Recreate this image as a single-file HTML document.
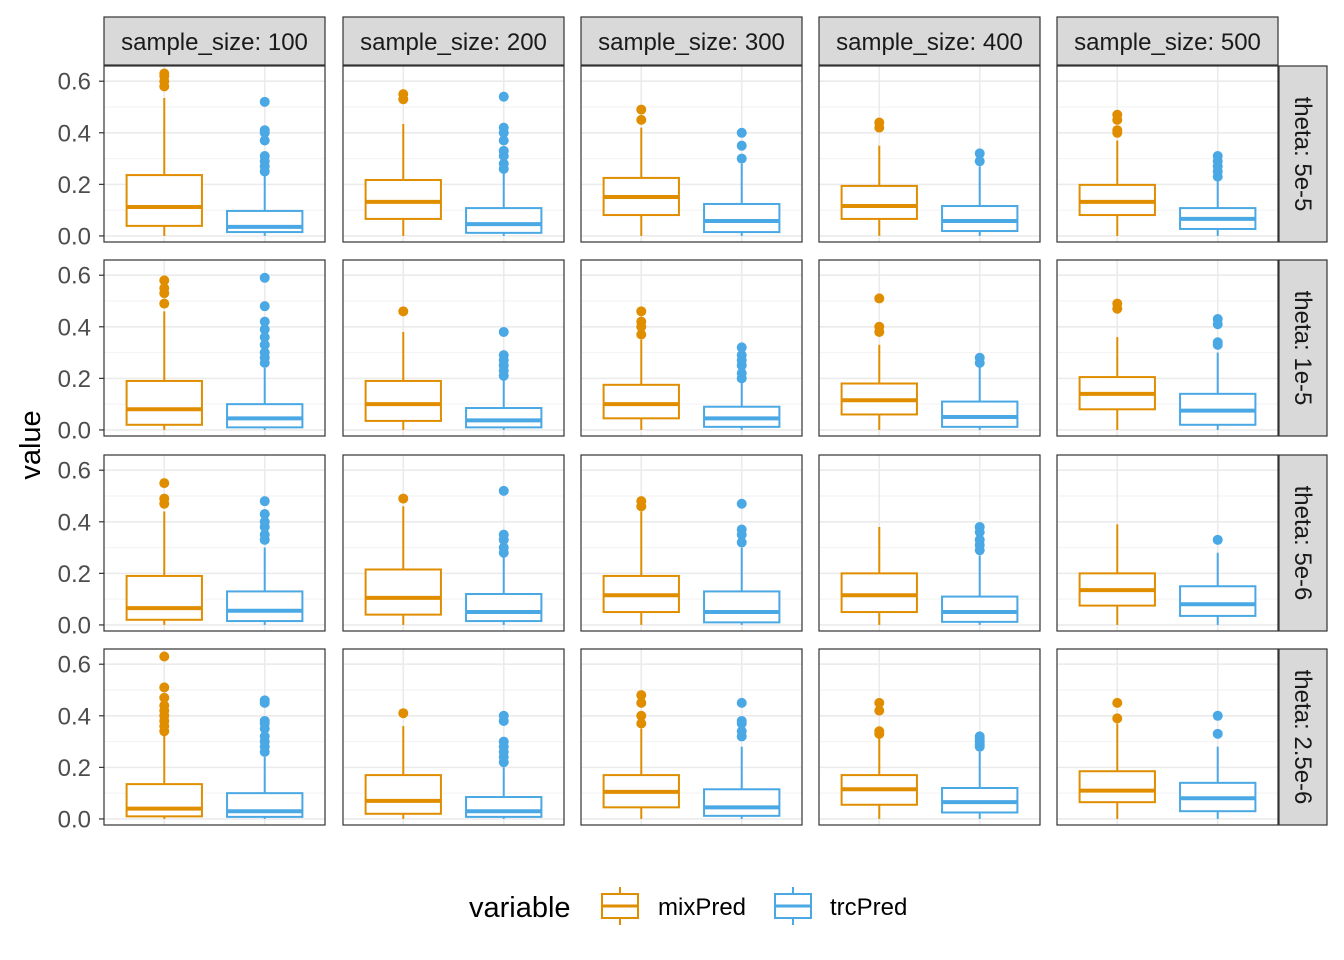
<!DOCTYPE html>
<html><head><meta charset="utf-8"><style>
html,body{margin:0;padding:0;background:#fff}
svg{display:block;font-family:"Liberation Sans",Arial,sans-serif}
</style></head><body>
<svg id="chart" width="1344" height="960" viewBox="0 0 1344 960" xmlns="http://www.w3.org/2000/svg"></svg>
<script>
const sampleSizes = ["100","200","300","400","500"];
const thetas = ["5e-5","1e-5","5e-6","2.5e-6"];
const variables = ["mixPred","trcPred"];
const colors = ["#E08E00","#4AA8E4"];
const yTicks = [0,0.2,0.4,0.6];
const yTickLabels = ["0.0","0.2","0.4","0.6"];
// each: [lowerWhisker, q1, median, q3, upperWhisker]
const mixStats = [
 [[0,0.039,0.112,0.236,0.535],[0,0.066,0.132,0.217,0.434],[0,0.081,0.151,0.225,0.42],[0,0.066,0.116,0.194,0.35],[0,0.081,0.132,0.198,0.37]],
 [[0,0.02,0.08,0.19,0.46],[0,0.035,0.10,0.19,0.38],[0,0.045,0.10,0.175,0.35],[0,0.06,0.115,0.18,0.33],[0,0.08,0.14,0.205,0.36]],
 [[0,0.02,0.065,0.19,0.44],[0,0.04,0.105,0.215,0.46],[0,0.05,0.115,0.19,0.44],[0,0.05,0.115,0.20,0.38],[0,0.075,0.135,0.20,0.39]],
 [[0,0.01,0.04,0.135,0.33],[0,0.02,0.07,0.17,0.36],[0,0.045,0.105,0.17,0.35],[0,0.055,0.115,0.17,0.32],[0,0.065,0.11,0.185,0.37]]
];
const trcStats = [
 [[0,0.015,0.035,0.097,0.24],[0,0.012,0.046,0.108,0.25],[0,0.015,0.058,0.124,0.28],[0,0.019,0.058,0.116,0.27],[0,0.027,0.066,0.108,0.22]],
 [[0,0.01,0.045,0.10,0.24],[0,0.01,0.037,0.085,0.20],[0,0.012,0.045,0.09,0.19],[0,0.012,0.05,0.11,0.25],[0,0.02,0.075,0.14,0.30]],
 [[0,0.015,0.055,0.13,0.30],[0,0.015,0.05,0.12,0.27],[0,0.01,0.05,0.13,0.30],[0,0.012,0.05,0.11,0.27],[0,0.035,0.08,0.15,0.28]],
 [[0,0.008,0.03,0.10,0.24],[0,0.008,0.03,0.085,0.20],[0,0.012,0.045,0.115,0.28],[0,0.025,0.065,0.12,0.26],[0,0.03,0.08,0.14,0.28]]
];
const mixOutliers = [
 [[0.58,0.60,0.62,0.63],[0.53,0.55],[0.45,0.49],[0.42,0.44],[0.40,0.41,0.45,0.47]],
 [[0.49,0.53,0.55,0.58],[0.46],[0.37,0.40,0.42,0.46],[0.38,0.40,0.51],[0.47,0.49]],
 [[0.47,0.49,0.55],[0.49],[0.46,0.48],[],[]],
 [[0.34,0.36,0.38,0.40,0.42,0.44,0.47,0.51,0.63],[0.41],[0.37,0.40,0.45,0.48],[0.33,0.34,0.42,0.45],[0.39,0.45]]
];
const trcOutliers = [
 [[0.25,0.27,0.29,0.31,0.37,0.40,0.41,0.52],[0.26,0.28,0.31,0.33,0.37,0.40,0.42,0.54],[0.30,0.35,0.40],[0.29,0.32],[0.23,0.25,0.27,0.29,0.31]],
 [[0.26,0.28,0.30,0.33,0.36,0.39,0.42,0.48,0.59],[0.21,0.23,0.25,0.27,0.29,0.38],[0.20,0.22,0.25,0.27,0.29,0.32],[0.26,0.28],[0.33,0.34,0.41,0.43]],
 [[0.33,0.35,0.38,0.40,0.43,0.48],[0.28,0.30,0.33,0.35,0.52],[0.32,0.35,0.37,0.47],[0.29,0.31,0.33,0.36,0.38],[0.33]],
 [[0.26,0.28,0.30,0.32,0.35,0.37,0.38,0.45,0.46],[0.22,0.24,0.26,0.28,0.30,0.38,0.40],[0.32,0.34,0.37,0.38,0.45],[0.28,0.29,0.30,0.31,0.32],[0.33,0.40]]
];

const svg=document.getElementById('chart');
const NS="http://www.w3.org/2000/svg";
function mk(tag,attrs,parent){const e=document.createElementNS(NS,tag);for(const k in attrs)e.setAttribute(k,attrs[k]);(parent||svg).appendChild(e);return e;}
const colX=[104,343,581,819,1057], panelW=221;
const rowY=[66,260,455,649], panelH=176;
const yMin=-0.0235, yMax=0.659;
function yScale(r,v){return rowY[r]+panelH-(v-yMin)/(yMax-yMin)*panelH;}
function xScale(c,i){return colX[c]+panelW*(0.6+i)/2.2;}
const bw=panelW*0.75/2.2;

for(let r=0;r<4;r++){
 for(let c=0;c<5;c++){
  const g=mk('g',{});
  
  
  mk('rect',{x:colX[c],y:rowY[r],width:panelW,height:panelH,fill:'#fff'},g);
  [0.1,0.3,0.5].forEach(v=>mk('line',{x1:colX[c],x2:colX[c]+panelW,y1:yScale(r,v),y2:yScale(r,v),stroke:'#F2F2F2','stroke-width':1},g));
  yTicks.forEach(v=>mk('line',{x1:colX[c],x2:colX[c]+panelW,y1:yScale(r,v),y2:yScale(r,v),stroke:'#EBEBEB','stroke-width':1.6},g));
  [0,1].forEach(i=>mk('line',{x1:xScale(c,i),x2:xScale(c,i),y1:rowY[r],y2:rowY[r]+panelH,stroke:'#EBEBEB','stroke-width':1.6},g));
  const stats=[mixStats[r][c],trcStats[r][c]], outs=[mixOutliers[r][c],trcOutliers[r][c]];
  for(let i=0;i<2;i++){
   const s=stats[i],x=xScale(c,i),col=colors[i];
   const b=mk('g',{},g);
   
   
   mk('line',{x1:x,x2:x,y1:yScale(r,s[4]),y2:yScale(r,s[3]),stroke:col,'stroke-width':2},b);
   mk('line',{x1:x,x2:x,y1:yScale(r,s[1]),y2:yScale(r,s[0]),stroke:col,'stroke-width':2},b);
   mk('rect',{x:x-bw/2,y:yScale(r,s[3]),width:bw,height:yScale(r,s[1])-yScale(r,s[3]),fill:'#fff',stroke:col,'stroke-width':2},b);
   mk('line',{x1:x-bw/2,x2:x+bw/2,y1:yScale(r,s[2]),y2:yScale(r,s[2]),stroke:col,'stroke-width':4},b);
   outs[i].forEach(v=>{const p=mk('circle',{cx:x,cy:yScale(r,v),r:5,fill:col},b);
     
     });
  }
  mk('rect',{x:colX[c],y:rowY[r],width:panelW,height:panelH,fill:'none',stroke:'#333','stroke-width':1.2},g);
  if(c===0){
   yTicks.forEach((v,k)=>{
    mk('line',{x1:colX[0]-5,x2:colX[0],y1:yScale(r,v),y2:yScale(r,v),stroke:'#333','stroke-width':1.2});
    const t=mk('text',{x:colX[0]-13,y:yScale(r,v)+8.5,'text-anchor':'end','font-size':24,fill:'#4D4D4D'});
    t.textContent=yTickLabels[k];
    
    
   });
  }
 }
 const sg=mk('g',{});
 
 
 mk('rect',{x:1279,y:rowY[r],width:48,height:panelH,fill:'#D9D9D9',stroke:'#333','stroke-width':1.2},sg);
 const st=mk('text',{x:0,y:0,transform:`translate(1295,${rowY[r]+panelH/2}) rotate(90)`,'text-anchor':'middle','font-size':24,fill:'#1A1A1A'},sg);
 st.textContent='theta: '+thetas[r];
}
for(let c=0;c<5;c++){
 const sg=mk('g',{});
 
 
 mk('rect',{x:colX[c],y:17,width:panelW,height:48,fill:'#D9D9D9',stroke:'#333','stroke-width':1.2},sg);
 const t=mk('text',{x:colX[c]+panelW/2,y:50,'text-anchor':'middle','font-size':24,fill:'#1A1A1A'},sg);
 t.textContent='sample_size: '+sampleSizes[c];
}
const yt=mk('text',{transform:'translate(40,445) rotate(-90)','text-anchor':'middle','font-size':29,fill:'#000'});
yt.textContent='value';


const lg=mk('g',{});


const lt=mk('text',{x:469,y:917,'font-size':29,fill:'#000'},lg);lt.textContent='variable';
const lx=[602,775], tx=[658,830];
variables.forEach((v,i)=>{
 const e=mk('g',{},lg);
 
 
 const cx=lx[i]+18;
 mk('line',{x1:cx,x2:cx,y1:887,y2:925,stroke:colors[i],'stroke-width':2},e);
 mk('rect',{x:lx[i],y:894,width:36,height:24,fill:'#fff',stroke:colors[i],'stroke-width':2},e);
 mk('line',{x1:lx[i],x2:lx[i]+36,y1:906,y2:906,stroke:colors[i],'stroke-width':3},e);
 const t=mk('text',{x:tx[i],y:915,'font-size':24,fill:'#000'},e);t.textContent=v;
});
</script>
</body></html>
